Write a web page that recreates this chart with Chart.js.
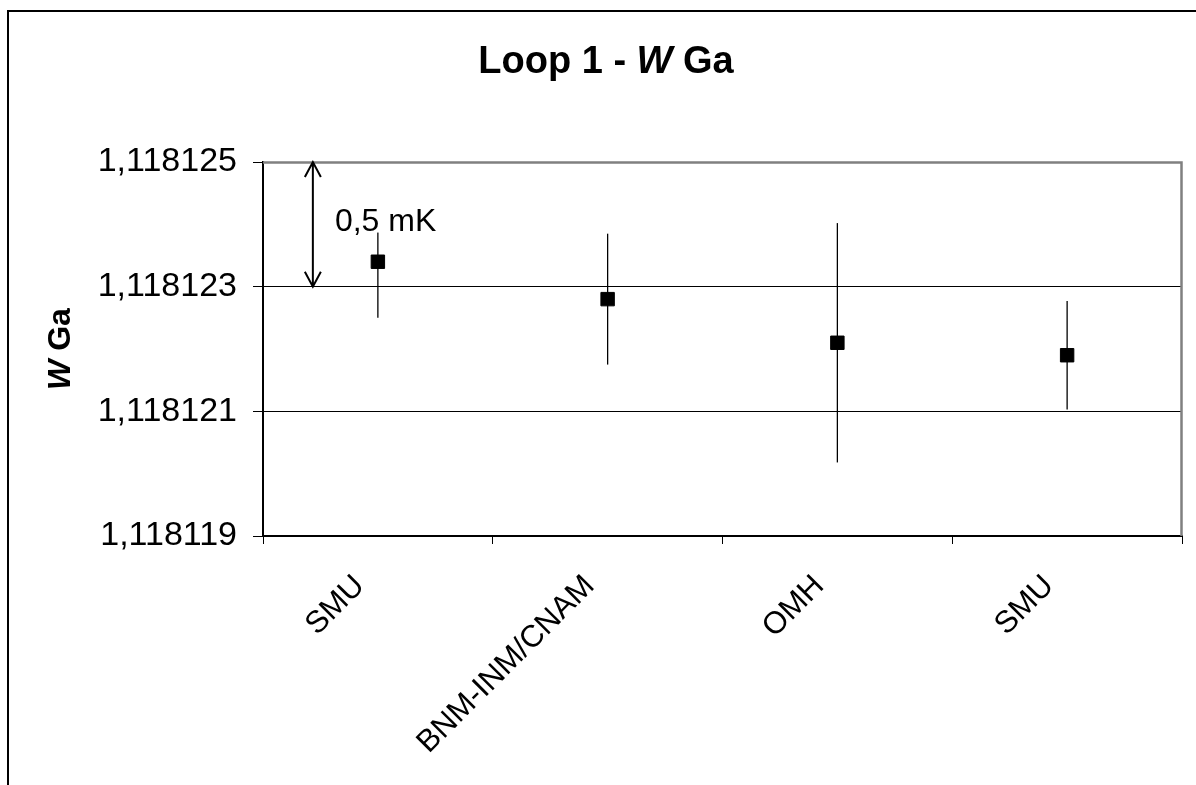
<!DOCTYPE html>
<html>
<head>
<meta charset="utf-8">
<script src="https://cdn.jsdelivr.net/npm/chart.js@4.4.0/dist/chart.umd.min.js"></script>
<style>
  html, body { margin: 0; padding: 0; background: #fff; }
  #wrap { width: 1196px; height: 785px; }
</style>
</head>
<body>
<div id="wrap"><canvas id="c" width="1196" height="785"></canvas></div>
<script>
// ---- data ----
const categories = ['SMU', 'BNM-INM/CNAM', 'OMH', 'SMU'];
const wValues = [1.1181234, 1.1181228, 1.1181221, 1.1181219];
const wErrors = [0.0000009, 0.00000105, 0.00000192, 0.00000087];
const yTickValues = [1.118119, 1.118121, 1.118123, 1.118125];
const titleParts = [['Loop 1 - ', false], ['W', true], [' Ga', false]];
const yTitleParts = [['W', true], [' Ga', false]];
const annotationFrom = 1.118125;
const annotationTo = 1.118123;
const annotationText = '0,5 mK';

const FONT = '"Liberation Sans", Arial, sans-serif';
const yMin = yTickValues[0], yMax = yTickValues[yTickValues.length - 1];

function drawParts(ctx, parts, size, cx, cy) {
  let total = 0;
  const widths = parts.map(([t, it]) => {
    ctx.font = (it ? 'italic ' : '') + 'bold ' + size + 'px ' + FONT;
    const w = ctx.measureText(t).width; total += w; return w;
  });
  let x = cx - total / 2;
  ctx.textAlign = 'left';
  ctx.textBaseline = 'alphabetic';
  parts.forEach(([t, it], i) => {
    ctx.font = (it ? 'italic ' : '') + 'bold ' + size + 'px ' + FONT;
    ctx.fillText(t, x, cy);
    x += widths[i];
  });
}

const decor = {
  id: 'decor',
  beforeDraw(chart) {
    const ctx = chart.ctx;
    ctx.save();
    ctx.fillStyle = '#fff';
    ctx.fillRect(0, 0, chart.width, chart.height);
    ctx.restore();
  },
  beforeDatasetsDraw(chart) {
    const ctx = chart.ctx;
    const x = chart.scales.x, y = chart.scales.y;
    ctx.save();
    // error bars
    ctx.strokeStyle = '#000';
    ctx.lineWidth = 1.3;
    wValues.forEach((v, i) => {
      const px = x.getPixelForValue(i);
      ctx.beginPath();
      ctx.moveTo(px, y.getPixelForValue(v + wErrors[i]));
      ctx.lineTo(px, y.getPixelForValue(v - wErrors[i]));
      ctx.stroke();
    });
    // plot area border top/right (gray)
    const a = chart.chartArea;
    ctx.strokeStyle = '#808080';
    ctx.lineWidth = 2.5;
    ctx.beginPath();
    ctx.moveTo(a.left, a.top + 0.5);
    ctx.lineTo(a.right - 0.5, a.top + 0.5);
    ctx.lineTo(a.right - 0.5, a.bottom);
    ctx.stroke();
    ctx.restore();
  },
  afterDraw(chart) {
    const ctx = chart.ctx;
    const x = chart.scales.x, y = chart.scales.y;
    const a = chart.chartArea;
    ctx.save();
    // outer frame (top and left visible)
    ctx.strokeStyle = '#000';
    ctx.lineWidth = 2;
    ctx.beginPath();
    ctx.moveTo(8, 785);
    ctx.lineTo(8, 11);
    ctx.lineTo(1196, 11);
    ctx.stroke();

    // title
    ctx.fillStyle = '#000';
    drawParts(ctx, titleParts, 38, 606, 73);

    // y-axis title (rotated)
    ctx.save();
    ctx.translate(70, (a.top + a.bottom) / 2);
    ctx.rotate(-Math.PI / 2);
    drawParts(ctx, yTitleParts, 32, 0, 0);
    ctx.restore();

    // annotation: label with white background
    const lx = x.getPixelForValue(-0.187);
    const ly = y.getPixelForValue(1.1181239);
    ctx.font = '32px ' + FONT;
    ctx.textAlign = 'left';
    ctx.textBaseline = 'alphabetic';
    const tw = ctx.measureText(annotationText).width;
    ctx.fillStyle = '#fff';
    ctx.fillRect(lx - 2, ly - 36, tw + 4, 38);
    ctx.fillStyle = '#000';
    ctx.fillText(annotationText, lx, ly);

    // double-headed arrow
    const ax = x.getPixelForValue(-0.283);
    const y1 = y.getPixelForValue(annotationFrom);
    const y2 = y.getPixelForValue(annotationTo);
    ctx.strokeStyle = '#000';
    ctx.lineWidth = 2;
    ctx.beginPath();
    ctx.moveTo(ax, y1); ctx.lineTo(ax, y2);
    ctx.moveTo(ax - 8, y1 + 15); ctx.lineTo(ax, y1); ctx.lineTo(ax + 8, y1 + 15);
    ctx.moveTo(ax - 8, y2 - 15); ctx.lineTo(ax, y2); ctx.lineTo(ax + 8, y2 - 15);
    ctx.stroke();
    ctx.restore();
  }
};

new Chart(document.getElementById('c'), {
  type: 'line',
  data: {
    labels: categories,
    datasets: [{
      data: wValues,
      showLine: false,
      pointStyle: 'rect',
      pointRadius: 9.5,
      pointHoverRadius: 9.5,
      pointBackgroundColor: '#000',
      pointBorderColor: '#000',
      pointBorderWidth: 1
    }]
  },
  options: {
    responsive: false,
    animation: false,
    events: [],
    layout: { padding: { left: 0, top: 162, right: 14, bottom: 0 } },
    plugins: { legend: { display: false }, tooltip: { enabled: false }, title: { display: false } },
    scales: {
      x: {
        type: 'category',
        offset: true,
        border: { display: true, color: '#000', width: 2 },
        grid: { display: true, offset: true, drawOnChartArea: false, drawTicks: true, tickLength: 8, color: '#000', lineWidth: 1 },
        ticks: {
          autoSkip: false, minRotation: 45, maxRotation: 45,
          padding: 24, labelOffset: -18,
          color: '#000',
          font: { family: FONT, size: 31 }
        },
        afterFit(scale) { scale.height = 249; }
      },
      y: {
        min: yMin, max: yMax,
        border: { display: true, color: '#000', width: 2 },
        grid: {
          drawTicks: true, tickLength: 10,
          color: (c) => (c.tick && c.tick.value === yMax) ? 'rgba(0,0,0,0)' : '#000',
          tickColor: '#000',
          lineWidth: 1
        },
        afterBuildTicks(scale) { scale.ticks = yTickValues.map(v => ({ value: v })); },
        ticks: {
          padding: 16,
          color: '#000',
          font: { family: FONT, size: 34 },
          callback: (v) => Number(v).toFixed(6).replace('.', ',')
        },
        afterFit(scale) { scale.width = 263; }
      }
    }
  },
  plugins: [decor]
});
</script>
</body>
</html>
